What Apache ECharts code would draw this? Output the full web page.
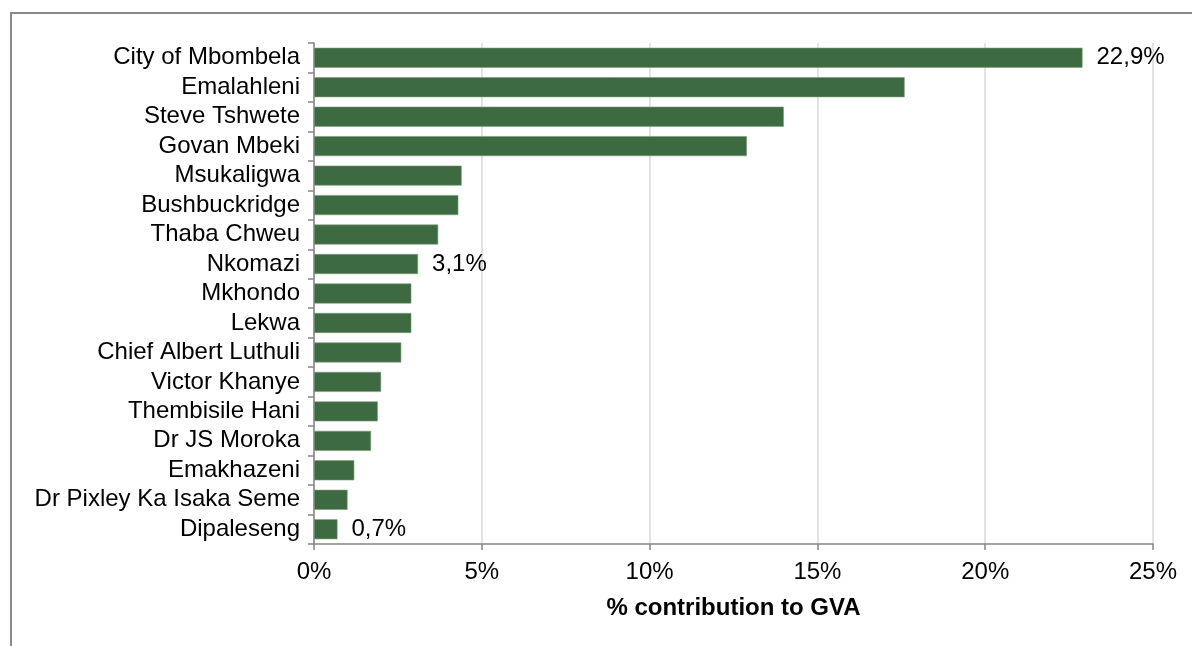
<!DOCTYPE html>
<html>
<head>
<meta charset="utf-8">
<script src="https://cdn.jsdelivr.net/npm/echarts@6/dist/echarts.min.js"></script>
<style>
  html, body { margin: 0; padding: 0; background: #fff; }
  #chart { width: 1192px; height: 646px; }
</style>
</head>
<body>
<div id="chart"></div>
<script>
// municipalities, top to bottom as drawn
const municipalities = [
  'City of Mbombela', 'Emalahleni', 'Steve Tshwete', 'Govan Mbeki', 'Msukaligwa',
  'Bushbuckridge', 'Thaba Chweu', 'Nkomazi', 'Mkhondo', 'Lekwa',
  'Chief Albert Luthuli', 'Victor Khanye', 'Thembisile Hani', 'Dr JS Moroka',
  'Emakhazeni', 'Dr Pixley Ka Isaka Seme', 'Dipaleseng'
];
// % contribution to GVA
const gvaShare = [22.9, 17.6, 14.0, 12.9, 4.4, 4.3, 3.7, 3.1, 2.9, 2.9, 2.6, 2.0, 1.9, 1.7, 1.2, 1.0, 0.7];
// only these bars carry a value label
const labelled = ['City of Mbombela', 'Nkomazi', 'Dipaleseng'];
const xTicks = [0, 5, 10, 15, 20, 25];

const font = 'Liberation Sans, Arial, sans-serif';
const chart = echarts.init(document.getElementById('chart'));

// category axis runs bottom-up, so reverse for top-to-bottom order
const cats = municipalities.slice().reverse();
const vals = gvaShare.slice().reverse().map((v, i) => ({
  value: v,
  label: { show: labelled.includes(cats[i]) }
}));

const option = {
  animation: false,
  grid: { left: 314, right: 39, top: 43, bottom: 102 },
  graphic: [{
    type: 'polyline',
    shape: { points: [[11, 646], [11, 13], [1192, 13]] },
    style: { stroke: '#8a8a8a', lineWidth: 2, fill: null }
  }],
  xAxis: {
    type: 'value',
    min: xTicks[0],
    max: xTicks[xTicks.length - 1],
    interval: 5,
    name: '% contribution to GVA',
    nameLocation: 'middle',
    nameGap: 52,
    nameTextStyle: { fontFamily: font, fontSize: 24, fontWeight: 'bold', color: '#000' },
    axisLine: { show: true, lineStyle: { color: '#868686', width: 1.5 } },
    axisTick: { show: true, length: 6, lineStyle: { color: '#868686', width: 1.5 } },
    axisLabel: {
      fontFamily: font, fontSize: 24, color: '#000', margin: 16,
      formatter: v => v + '%'
    },
    splitLine: { show: true, lineStyle: { color: '#d9d9d9', width: 1.5 } }
  },
  yAxis: {
    type: 'category',
    data: cats,
    axisLine: { show: true, lineStyle: { color: '#868686', width: 1.5 } },
    axisTick: { show: true, interval: 0, length: 6, lineStyle: { color: '#868686', width: 1.5 } },
    axisLabel: { interval: 0, fontFamily: font, fontSize: 24, color: '#000', margin: 14 }
  },
  series: [{
    type: 'bar',
    data: vals,
    barWidth: 20,
    itemStyle: { color: '#3e6a41', borderColor: '#7d9a7e', borderWidth: 0.6 },
    label: {
      position: 'right',
      distance: 14,
      fontFamily: font,
      fontSize: 24,
      color: '#000',
      formatter: p => p.value.toFixed(1).replace('.', ',') + '%'
    }
  }]
};

chart.setOption(option);
</script>
</body>
</html>
